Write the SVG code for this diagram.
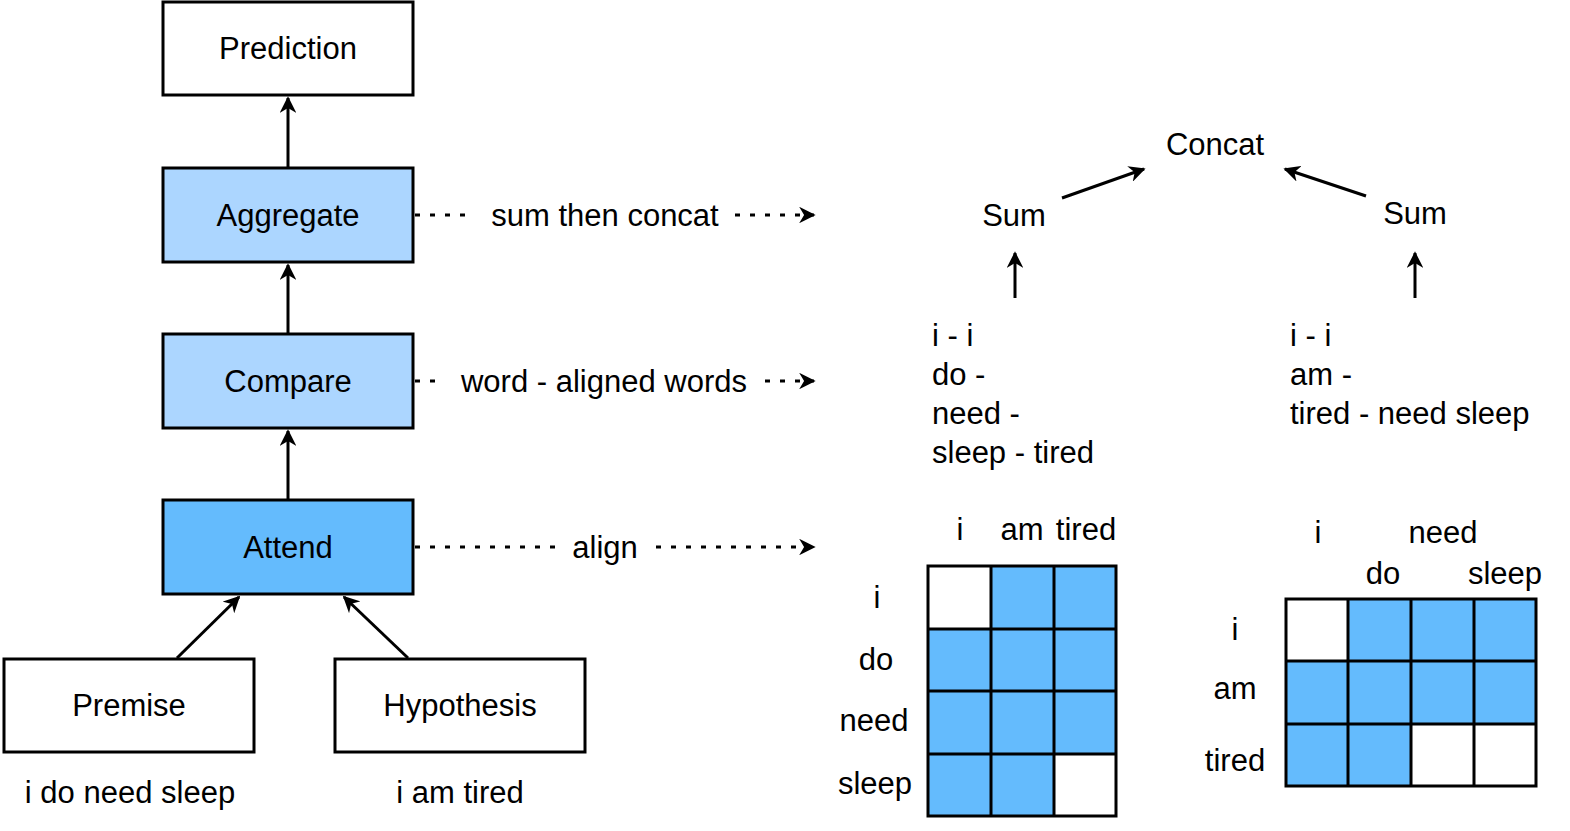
<svg xmlns="http://www.w3.org/2000/svg" width="1570" height="831" viewBox="0 0 1570 831">
<style>
text{font-family:"Liberation Sans",Arial,sans-serif;font-size:31px;fill:#000}
.c{text-anchor:middle}
.box{stroke:#000;stroke-width:3}
.w{fill:#fff}
.lb{fill:#acd6ff}
.db{fill:#64bbfd}
.ln{stroke:#000;stroke-width:3;fill:none}
.dot{stroke:#000;stroke-width:3;fill:none;stroke-dasharray:5 10}
.g{stroke:#000;stroke-width:3}
</style>
<defs>
<marker id="ah" viewBox="0 0 10 10" refX="9" refY="5" markerWidth="5.5" markerHeight="5.5" orient="auto" markerUnits="strokeWidth">
<path d="M0,0 L10,5 L0,10 L3,5 z" fill="#000"/>
</marker>
</defs>
<g id="prediction"><rect class="box w" x="163" y="2" width="250" height="93"/><text class="c" x="288" y="59">Prediction</text></g>
<g id="aggregate"><rect class="box lb" x="163" y="168" width="250" height="94"/><text class="c" x="288" y="226">Aggregate</text></g>
<g id="compare"><rect class="box lb" x="163" y="334" width="250" height="94"/><text class="c" x="288" y="392">Compare</text></g>
<g id="attend"><rect class="box db" x="163" y="500" width="250" height="94"/><text class="c" x="288" y="558">Attend</text></g>
<g id="premise"><rect class="box w" x="4" y="659" width="250" height="93"/><text class="c" x="129" y="716">Premise</text><text class="c" x="130" y="803">i do need sleep</text></g>
<g id="hypothesis"><rect class="box w" x="335" y="659" width="250" height="93"/><text class="c" x="460" y="716">Hypothesis</text><text class="c" x="460" y="803">i am tired</text></g>
<g id="connectors">
<line class="ln" x1="288" y1="167" x2="288" y2="98" marker-end="url(#ah)"/>
<line class="ln" x1="288" y1="333" x2="288" y2="265" marker-end="url(#ah)"/>
<line class="ln" x1="288" y1="499" x2="288" y2="431" marker-end="url(#ah)"/>
<line class="ln" x1="177" y1="658" x2="239" y2="597" marker-end="url(#ah)"/>
<line class="ln" x1="408" y1="658" x2="344" y2="597" marker-end="url(#ah)"/>
<line class="dot" x1="415" y1="215" x2="470" y2="215"/>
<line class="dot" x1="735" y1="215" x2="814" y2="215" marker-end="url(#ah)"/>
<line class="dot" x1="415" y1="381" x2="440" y2="381"/>
<line class="dot" x1="765" y1="381" x2="814" y2="381" marker-end="url(#ah)"/>
<line class="dot" x1="415" y1="547" x2="560" y2="547"/>
<line class="dot" x1="656" y1="547" x2="814" y2="547" marker-end="url(#ah)"/>
<line class="ln" x1="1062" y1="198" x2="1144" y2="169" marker-end="url(#ah)"/>
<line class="ln" x1="1366" y1="196" x2="1285" y2="169" marker-end="url(#ah)"/>
<line class="ln" x1="1015" y1="298" x2="1015" y2="253" marker-end="url(#ah)"/>
<line class="ln" x1="1415" y1="298" x2="1415" y2="253" marker-end="url(#ah)"/>
</g>
<g id="edge-labels">
<text class="c" x="605" y="226">sum then concat</text>
<text class="c" x="604" y="392">word - aligned words</text>
<text class="c" x="605" y="558">align</text>
</g>
<g id="concat"><text class="c" x="1215" y="155">Concat</text></g>
<g id="sum-left"><text class="c" x="1014" y="226">Sum</text></g>
<g id="sum-right"><text class="c" x="1415" y="224">Sum</text></g>
<g id="pairs-left">
<text x="932" y="346">i - i</text>
<text x="932" y="385">do -</text>
<text x="932" y="424">need -</text>
<text x="932" y="463">sleep - tired</text>
</g>
<g id="pairs-right">
<text x="1290" y="346">i - i</text>
<text x="1290" y="385">am -</text>
<text x="1290" y="424">tired - need sleep</text>
</g>
<g id="grid-left">
<rect class="db" x="928" y="566" width="188" height="250"/>
<rect class="w" x="928" y="566" width="63" height="63"/>
<rect class="w" x="1054" y="754" width="62" height="62"/>
<path class="g" fill="none" d="M928,566H1116V816H928Z M991,566V816 M1054,566V816 M928,629H1116 M928,691H1116 M928,754H1116"/>
<text class="c" x="960" y="540">i</text>
<text class="c" x="1022" y="540">am</text>
<text class="c" x="1086" y="540">tired</text>
<text class="c" x="877" y="608">i</text>
<text class="c" x="876" y="670">do</text>
<text class="c" x="874" y="731">need</text>
<text class="c" x="875" y="794">sleep</text>
</g>
<g id="grid-right">
<rect class="db" x="1286" y="599" width="250" height="187"/>
<rect class="w" x="1286" y="599" width="62" height="62"/>
<rect class="w" x="1411" y="724" width="125" height="62"/>
<path class="g" fill="none" d="M1286,599H1536V786H1286Z M1348,599V786 M1411,599V786 M1474,599V786 M1286,661H1536 M1286,724H1536"/>
<text class="c" x="1318" y="543">i</text>
<text class="c" x="1443" y="543">need</text>
<text class="c" x="1383" y="584">do</text>
<text class="c" x="1505" y="584">sleep</text>
<text class="c" x="1235" y="640">i</text>
<text class="c" x="1235" y="699">am</text>
<text class="c" x="1235" y="771">tired</text>
</g>
</svg>
